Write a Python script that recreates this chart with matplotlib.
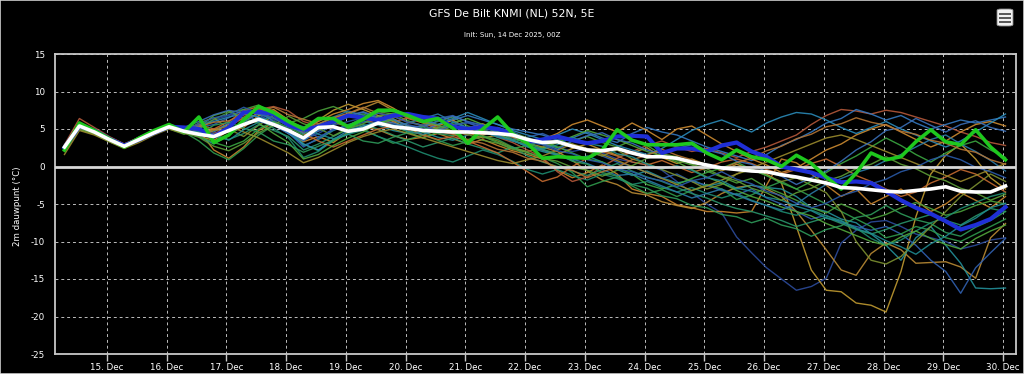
import matplotlib
matplotlib.use("Agg")
import matplotlib.pyplot as plt
import matplotlib.dates as mdates
from matplotlib.patches import FancyBboxPatch, Rectangle
import pandas as pd

plt.rcParams['font.family'] = ['Liberation Sans Narrow', 'DejaVu Sans']
plt.rcParams['axes.unicode_minus'] = False

# ---------------- data ----------------
times = pd.date_range("2025-12-14 07:00", periods=64, freq="6h")

ens_mean = [2.6, 5.4, 4.6, 3.6, 2.7, 3.6, 4.5, 5.3,
            4.7, 4.3, 4.0, 4.8, 5.6, 6.3, 5.6, 4.8,
            3.8, 5.2, 5.3, 4.7, 5.0, 5.8, 5.3, 5.1,
            4.8, 4.7, 4.6, 4.6, 4.5, 4.4, 4.2, 3.6,
            3.2, 3.3, 2.7, 2.2, 2.1, 2.4, 1.8, 1.3,
            1.3, 1.1, 0.6, 0.2, -0.2, -0.4, -0.6, -0.7,
            -1.1, -1.4, -1.8, -2.2, -2.8, -2.9, -3.1, -3.3,
            -3.4, -3.2, -3.0, -2.7, -3.3, -3.4, -3.4, -2.6]

operational = [2.2, 5.8, 4.8, 3.7, 2.6, 3.8, 4.8, 5.6,
               4.6, 6.6, 3.2, 4.2, 6.2, 8.0, 7.2, 6.0,
               5.0, 6.4, 6.4, 5.3, 6.3, 7.5, 7.5, 6.8,
               6.0, 6.4, 5.1, 3.1, 5.0, 6.6, 4.4, 3.1,
               1.1, 1.3, 1.2, 1.1, 2.2, 4.9, 3.5, 2.9,
               2.9, 2.9, 3.1, 1.8, 0.9, 2.2, 1.3, 0.9,
               0.0, 1.5, 0.4, -1.4, -3.0, -0.9, 1.8, 0.9,
               1.3, 3.3, 4.9, 3.3, 2.9, 4.9, 2.6, 0.9]

control = [2.5, 5.4, 4.8, 3.7, 2.8, 3.6, 4.5, 5.3,
           5.2, 5.0, 4.0, 5.2, 7.2, 7.3, 7.0, 5.5,
           4.9, 5.3, 6.0, 6.8, 6.5, 6.2, 6.8, 7.0,
           6.6, 6.4, 5.3, 5.0, 5.3, 5.0, 4.4, 3.3,
           3.6, 4.0, 3.5, 3.1, 3.4, 4.0, 4.1, 4.0,
           1.8, 2.4, 2.4, 2.0, 2.8, 3.2, 2.0, 1.3,
           0.0, -0.4, -0.8, -1.5, -2.1, -2.0, -2.2, -3.3,
           -4.5, -5.5, -6.3, -7.3, -8.4, -7.8, -7.0, -5.4]

members = [
    [2.9, 5.6, 4.7, 3.5, 2.6, 3.8, 4.7, 5.4, 4.9,
     5.5, 6.2, 6.8, 7.3, 7.0, 6.2, 5.0, 3.6, 4.4, 5.5, 6.0, 6.5, 6.7, 6.1, 5.6, 5.0, 5.2, 5.5, 5.8, 5.2, 4.5, 3.8, 3.2,
     3.0, 2.6, 2.0, 2.4, 1.8, 1.0, 0.6, 0.2, -0.5, -2.0, -3.5, -5.0, -6.2, -9.4, -11.5, -13.5,
     -15.0, -16.5, -16.0, -14.9, -10.2, -8.5, -7.4, -7.2, -8.0, -9.0, -9.5, -10.0, -11.0, -10.5, -9.8, -9.5],
    [2.3, 5.1, 4.4, 3.7, 2.9, 3.5, 4.3, 5.1, 4.5,
     4.0, 3.5, 4.8, 6.0, 7.2, 6.5, 5.5, 4.6, 6.2, 7.5, 8.3, 7.6, 6.8, 6.0, 5.1, 4.2, 4.8, 5.6, 4.5, 3.8, 4.2, 3.5, 2.7,
     2.2, 1.6, 2.4, 3.0, 2.2, 1.5, 1.8, 2.5, 1.2, 0.4, 1.0, 0.2, -0.6, 0.3, -0.4, -1.0,
     -2.2, -8.0, -13.8, -16.5, -16.7, -18.2, -18.5, -19.4, -14.0, -6.7, -1.0, 1.5, 3.0, 1.0, -1.5, -3.0],
    [2.5, 5.3, 4.5, 3.4, 2.6, 3.7, 4.6, 5.2, 4.4,
     4.8, 2.2, 1.1, 2.6, 4.8, 5.8, 4.4, 3.3, 4.0, 3.2, 4.6, 5.4, 4.9, 4.1, 3.6, 3.9, 4.4, 3.7, 3.0, 3.6, 2.8, 2.1, 1.6,
     1.0, -0.5, -1.5, -0.8, 0.2, -1.0, -3.0, -3.6, -4.0, -5.1, -5.5, -6.0, -6.0, -6.2, -6.0, -2.5,
     1.0, 0.5, -1.0, -2.5, -4.0, -3.0, -5.0, -4.0, -3.0, -4.5, -6.0, -5.0, -3.5, -4.5, -5.5, -4.0],
    [2.7, 5.5, 4.6, 3.6, 2.8, 3.4, 4.4, 5.3, 4.8,
     4.5, 4.9, 5.6, 6.4, 7.8, 7.0, 6.1, 5.0, 5.6, 6.5, 7.0, 7.8, 8.6, 7.5, 6.4, 5.8, 5.0, 4.4, 5.1, 5.7, 4.8, 3.9, 3.1,
     2.6, 2.0, 0.8, -0.6, -1.8, -2.4, -3.5, -3.8, -4.7, -5.2, -5.6, -4.8, -3.6, -2.8, -2.5, -3.0,
     -4.0, -6.0, -8.5, -11.1, -13.8, -14.5, -11.6, -10.2, -11.1, -12.9, -12.8, -12.7, -13.4, -14.9, -9.5, -7.6],
    [2.6, 5.2, 4.7, 3.7, 2.7, 3.6, 4.6, 5.4, 4.6,
     4.0, 3.0, 4.2, 5.5, 6.6, 5.9, 4.8, 2.8, 3.6, 4.8, 5.6, 6.1, 5.5, 4.8, 4.4, 4.6, 3.9, 3.5, 4.2, 4.9, 4.1, 3.5, 2.6,
     2.0, 1.5, 0.8, 1.4, 0.6, -0.4, -1.2, -0.6, -1.5, -2.2, -1.8, -2.6, -2.2, -3.0, -2.5, -2.8,
     -3.0, -4.0, -5.5, -6.0, -7.0, -7.5, -9.0, -10.5, -12.5, -9.5, -8.0, -10.5, -12.9, -16.2, -16.3, -16.2],
    [2.8, 5.4, 4.8, 3.7, 2.8, 3.7, 4.5, 5.5, 5.0,
     5.2, 5.6, 6.5, 7.6, 6.9, 5.8, 4.5, 2.6, 3.8, 5.0, 5.2, 5.9, 6.2, 5.6, 5.0, 5.5, 6.4, 6.8, 5.9, 5.0, 4.2, 3.6, 3.9,
     4.4, 3.6, 2.8, 2.2, 1.4, 0.6, 0.0, -0.8, -1.6, -1.0, -2.0, -2.5, -3.2, -3.8, -3.0, -4.2,
     -5.0, -6.0, -7.0, -6.5, -7.5, -8.0, -8.5, -8.0, -9.0, -10.5, -12.5, -14.0, -16.9, -13.5, -11.5, -9.6],
    [2.4, 5.0, 4.5, 3.5, 2.6, 3.4, 4.4, 5.2, 4.6,
     3.4, 1.8, 0.9, 2.4, 4.2, 5.5, 4.9, 3.0, 2.1, 3.4, 4.5, 5.0, 4.0, 3.1, 3.6, 4.2, 3.5, 2.8, 3.3, 4.1, 3.6, 2.6, 1.8,
     1.2, 0.4, -0.8, -2.7, -2.0, -1.4, -2.6, -3.6, -3.1, -4.0, -3.2, -2.4, -3.0, -4.4, -3.8, -2.8,
     -2.0, -3.0, -4.0, -5.0, -6.0, -7.0, -8.0, -9.5, -9.0, -8.0, -8.5, -9.5, -10.0, -9.0, -8.0, -7.0],
    [2.0, 4.9, 4.3, 3.3, 2.5, 3.5, 4.4, 5.0, 4.3,
     5.0, 6.3, 7.2, 7.6, 8.2, 7.0, 5.8, 6.4, 7.4, 8.0, 7.2, 6.5, 7.3, 7.0, 6.1, 5.4, 6.0, 6.6, 5.4, 4.8, 5.2, 4.6, 3.8,
     3.2, 2.5, 3.4, 4.0, 3.2, 2.6, 3.5, 2.8, 1.6, 0.8, 0.2, -0.6, -1.4, -2.2, -1.6, -2.8,
     -3.6, -4.5, -5.5, -6.2, -5.0, -5.8, -7.0, -6.4, -5.5, -4.8, -5.6, -6.5, -6.0, -5.2, -4.6, -5.0],
    [2.7, 5.3, 4.6, 3.6, 2.7, 3.6, 4.5, 5.3, 4.7,
     4.2, 3.8, 5.0, 5.9, 6.4, 5.1, 3.8, 1.2, 2.0, 3.6, 4.3, 4.8, 4.0, 3.3, 2.6, 1.8, 1.1, 0.6, 1.4, 2.2, 1.6, 0.7, -0.4,
     -1.0, -0.4, -1.2, -1.8, -1.0, -1.6, -2.4, -2.0, -2.8, -3.4, -2.8, -3.6, -4.2, -3.6, -4.5, -5.2,
     -6.0, -6.5, -5.8, -6.6, -7.2, -8.2, -9.6, -10.5, -9.8, -8.6, -7.5, -6.8, -5.6, -4.8, -4.0, -3.5],
    [2.5, 5.2, 4.5, 3.6, 2.8, 3.6, 4.4, 5.2, 4.6,
     5.8, 6.5, 5.0, 4.0, 5.5, 6.8, 5.6, 4.4, 5.0, 6.0, 5.2, 4.8, 5.8, 6.4, 5.4, 4.6, 5.0, 4.4, 3.6, 4.0, 3.4, 2.5, 2.0,
     2.6, 3.4, 3.0, 2.0, 1.4, 2.2, 1.0, 0.4, -0.4, -1.2, -2.0, -3.0, -2.4, -1.0, -0.4, -1.2,
     -2.0, -1.5, -2.5, -3.5, -6.0, -10.0, -12.5, -13.0, -12.0, -10.0, -8.0, -6.0, -4.0, -2.5, -1.0, -2.0],
    [2.9, 6.4, 5.2, 4.0, 3.0, 3.8, 4.8, 5.6, 5.0,
     4.8, 4.4, 5.2, 6.6, 7.6, 8.0, 7.4, 6.0, 5.4, 6.2, 7.0, 6.4, 5.6, 5.9, 6.5, 5.9, 5.2, 4.7, 4.2, 4.8, 3.9, 3.2, 2.2,
     1.2, -0.7, -2.0, -1.4, 0.0, 1.1, 2.0, 2.8, 3.4, 2.6, 2.0, 2.4, 1.8, 1.2, 2.0, 2.6,
     3.4, 4.2, 5.6, 6.8, 7.6, 7.4, 7.0, 7.5, 7.2, 6.6, 6.0, 5.4, 4.6, 4.0, 3.2, 2.8],
    [2.6, 5.5, 4.6, 3.7, 2.7, 3.6, 4.6, 5.4, 4.8,
     5.0, 4.6, 5.8, 6.9, 7.4, 6.0, 4.6, 3.4, 4.8, 6.2, 6.8, 7.2, 6.4, 5.8, 5.2, 4.8, 5.6, 6.2, 6.8, 6.2, 5.6, 5.0, 4.6,
     4.2, 3.5, 3.8, 4.6, 3.8, 3.2, 4.4, 5.2, 4.6, 4.2, 3.4, 2.6, 2.0, 1.4, 0.8, 1.6,
     2.8, 3.6, 4.6, 5.8, 6.4, 7.6, 7.0, 6.2, 6.8, 5.8, 5.0, 5.6, 6.2, 5.8, 6.2, 6.6],
    [2.4, 5.0, 4.4, 3.5, 2.7, 3.5, 4.4, 5.1, 4.5,
     4.6, 5.0, 4.6, 5.2, 6.8, 7.6, 6.2, 5.0, 6.0, 7.0, 7.6, 8.4, 8.8, 7.8, 6.6, 6.0, 5.4, 6.2, 5.0, 4.2, 4.8, 4.0, 3.0,
     3.6, 4.4, 5.6, 6.2, 5.4, 4.6, 5.8, 4.8, 3.6, 5.0, 5.4, 4.2, 3.0, 2.0, 1.0, 0.2,
     -0.8, -0.2, 1.0, 2.2, 3.0, 4.2, 5.0, 5.6, 4.6, 3.6, 2.6, 3.4, 4.6, 5.6, 6.0, 5.4],
    [2.6, 5.6, 4.8, 3.8, 2.9, 3.8, 4.7, 5.5, 4.9,
     4.0, 3.2, 2.6, 3.4, 5.0, 6.0, 5.2, 4.2, 5.0, 5.8, 6.6, 7.0, 6.2, 5.4, 4.6, 3.8, 4.6, 5.4, 4.8, 4.0, 3.2, 2.4, 2.8,
     3.4, 2.6, 1.8, 1.0, 0.6, -0.2, -1.0, -2.4, -3.0, -2.4, -1.6, -0.8, -0.2, 0.6, -0.4, -1.2,
     -2.2, -3.0, -2.0, -0.8, 0.4, 1.4, 2.6, 3.8, 2.8, 1.6, 0.6, 1.8, 2.8, 3.4, 2.2, 1.2],
    [2.3, 5.2, 4.5, 3.5, 2.6, 3.5, 4.4, 5.2, 4.6,
     4.4, 4.0, 3.6, 4.4, 5.6, 4.8, 4.0, 2.2, 3.0, 4.0, 5.0, 5.6, 5.0, 4.2, 3.4, 2.6, 3.2, 3.8, 3.0, 2.4, 1.8, 2.6, 1.4,
     0.6, 0.0, -0.6, -1.2, -0.4, 0.4, -0.6, -1.4, -2.0, -2.8, -3.6, -4.2, -5.0, -5.6, -6.0, -6.6,
     -7.2, -8.0, -7.4, -6.8, -7.6, -8.4, -9.0, -8.4, -7.6, -7.0, -6.4, -7.2, -7.8, -6.6, -5.6, -6.0],
    [2.7, 5.4, 4.7, 3.6, 2.8, 3.7, 4.6, 5.3, 4.8,
     5.4, 6.0, 6.6, 7.0, 6.6, 5.6, 4.4, 3.0, 2.2, 3.6, 4.8, 5.4, 6.0, 6.6, 7.0, 6.2, 5.6, 6.4, 7.2, 6.4, 5.6, 4.8, 4.2,
     3.6, 4.2, 5.0, 4.4, 3.6, 2.8, 2.2, 1.6, 2.4, 3.6, 4.8, 5.6, 6.2, 5.4, 4.6, 5.8,
     6.6, 7.2, 7.0, 6.2, 5.2, 4.4, 5.2, 6.0, 5.0, 4.2, 3.4, 2.6, 3.4, 4.6, 5.8, 7.0],
    [2.8, 5.6, 4.8, 3.9, 3.0, 3.9, 4.8, 5.6, 5.1,
     5.6, 5.0, 6.0, 7.4, 8.0, 7.4, 6.2, 4.4, 3.4, 2.6, 3.4, 4.2, 5.0, 5.4, 4.8, 4.2, 3.6, 4.0, 3.4, 2.6, 1.8, 0.6, -0.7,
     -2.0, -1.4, 0.0, 1.1, 2.0, 1.4, 0.6, 0.2, 0.8, 0.0, -0.8, -0.2, 0.6, 1.0, 0.4, -0.4,
     -1.0, -0.4, 0.4, 1.0, 0.0, -1.2, -2.0, -3.0, -4.0, -3.4, -2.2, -1.4, -0.4, -1.0, -2.2, -3.4],
    [2.5, 5.4, 4.6, 3.6, 2.8, 3.6, 4.5, 5.3, 4.7,
     5.2, 6.8, 7.4, 6.4, 5.8, 4.4, 3.2, 1.0, 1.6, 2.8, 3.8, 4.6, 5.8, 6.2, 5.4, 4.6, 5.2, 5.8, 6.4, 5.6, 4.4, 3.4, 3.0,
     2.4, 3.2, 4.0, 4.8, 4.2, 3.6, 2.8, 2.0, 1.4, 0.6, -0.4, -1.4, -2.2, -3.2, -4.0, -4.6,
     -5.4, -6.0, -6.6, -7.6, -8.4, -9.2, -10.0, -10.5, -9.4, -8.6, -9.6, -10.4, -11.0, -9.6, -8.6, -7.8],
    [2.4, 5.2, 4.6, 3.6, 2.8, 3.6, 4.6, 5.4, 4.8,
     4.6, 4.2, 4.8, 6.0, 7.0, 6.4, 5.4, 4.4, 5.6, 6.6, 7.4, 6.8, 6.0, 5.4, 5.8, 6.4, 7.0, 6.0, 5.2, 4.6, 4.0, 3.4, 2.8,
     2.2, 1.6, 1.0, 0.4, -0.4, -1.2, -1.0, -1.8, -2.6, -3.4, -4.2, -3.6, -3.0, -3.8, -4.6, -5.2,
     -5.8, -5.0, -3.6, -2.4, -1.6, -0.8, -0.2, 0.8, 1.6, 2.6, 3.6, 4.2, 3.0, 2.0, 0.8, -0.6],
    [1.6, 4.8, 4.2, 3.3, 2.4, 3.2, 4.2, 5.0, 4.4,
     4.2, 4.8, 5.4, 4.6, 3.8, 2.8, 1.8, 0.5, 1.2, 2.2, 3.2, 4.0, 4.6, 5.0, 4.4, 3.8, 3.2, 2.6, 2.0, 1.4, 0.8, 0.4, 0.9,
     1.4, 2.2, 3.0, 2.4, 1.6, 0.8, 0.0, -0.8, -1.6, -2.4, -3.2, -2.6, -1.8, -1.0, -0.2, 0.6,
     1.4, 2.2, 3.0, 3.8, 4.2, 3.6, 2.8, 2.0, 1.2, 0.4, -0.4, -1.2, -2.0, -1.2, -0.4, 0.4],
    [2.7, 5.7, 4.9, 3.8, 2.9, 3.9, 4.8, 5.6, 5.2,
     6.0, 6.9, 7.5, 7.1, 6.0, 5.5, 4.4, 3.9, 4.7, 5.6, 6.8, 7.3, 6.6, 6.3, 5.4, 5.3, 6.1, 6.7, 6.0, 5.5, 4.7, 4.3, 3.5,
     3.1, 2.3, 3.4, 4.1, 4.5, 3.6, 3.1, 2.2, 1.7, 2.4, 2.9, 2.2, 1.7, 0.7, 0.3, -0.7,
     -1.3, -2.4, -1.5, -0.6, 0.7, 2.2, 3.3, 4.8, 5.2, 6.4, 5.5, 4.6, 5.6, 6.1, 5.2, 4.7],
    [2.5, 5.3, 4.6, 3.6, 2.7, 3.6, 4.6, 5.3, 4.7,
     4.3, 5.5, 5.9, 5.1, 4.6, 3.4, 2.9, 1.9, 2.7, 3.5, 4.3, 3.4, 3.1, 3.9, 4.5, 5.3, 4.4, 4.1, 4.9, 5.2, 4.7, 3.6, 3.3,
     2.3, 1.7, 0.7, 0.3, -0.8, -1.3, -2.4, -2.9, -3.9, -4.3, -5.2, -5.5, -6.4, -6.7, -7.5, -6.9,
     -7.8, -8.3, -9.3, -8.4, -7.9, -6.8, -6.4, -5.2, -6.3, -7.1, -7.6, -8.8, -9.3, -8.1, -7.2, -6.0],
    [2.6, 5.5, 4.7, 3.7, 2.8, 3.7, 4.6, 5.4, 4.8,
     5.3, 5.9, 6.1, 6.9, 7.3, 7.9, 6.9, 6.3, 5.7, 6.5, 7.1, 7.9, 7.1, 6.7, 5.9, 5.5, 4.7, 4.3, 3.5, 3.1, 2.3, 1.9, 1.1,
     0.7, -0.1, -0.5, -1.5, -0.7, -0.1, 0.9, 1.5, 2.3, 1.5, 0.9, 0.1, -0.3, 0.5, 1.1, 2.1,
     2.7, 3.7, 4.3, 5.3, 5.7, 6.5, 5.9, 5.5, 4.7, 4.3, 3.5, 3.1, 2.3, 1.9, 0.9, 0.3],
    [2.4, 5.1, 4.5, 3.5, 2.6, 3.5, 4.4, 5.2, 4.6,
     4.7, 4.3, 3.5, 4.9, 5.9, 6.9, 5.9, 5.3, 4.3, 3.7, 4.3, 5.3, 5.9, 5.5, 4.7, 4.3, 4.9, 5.9, 5.1, 4.7, 3.9, 3.5, 2.7,
     2.3, 2.9, 3.9, 3.1, 2.7, 1.7, 1.3, 0.3, -0.3, 0.1, -0.5, -1.5, -1.9, -2.9, -3.3, -4.1,
     -4.5, -5.3, -5.9, -6.9, -7.3, -8.3, -8.9, -9.9, -10.7, -11.7, -10.3, -9.3, -7.9, -6.9, -5.5, -4.9],
    [2.2, 5.0, 4.4, 3.4, 2.5, 3.4, 4.3, 5.1, 4.5,
     3.9, 2.7, 2.1, 3.1, 4.5, 5.5, 6.7, 5.7, 5.1, 4.1, 5.1, 5.7, 6.7, 7.1, 6.7, 5.9, 5.5, 4.7, 4.3, 3.5, 3.1, 2.3, 1.9,
     1.1, 0.7, -0.1, -0.5, -1.3, -0.5, 0.1, 1.1, 1.7, 1.3, 0.3, -0.3, -1.3, -1.9, -2.9, -3.5,
     -4.5, -3.5, -2.9, -1.9, -1.3, -0.3, 0.3, 1.3, 0.3, -0.3, -1.3, -1.9, -2.9, -3.5, -4.5, -3.7],
    [2.8, 5.5, 4.7, 3.6, 2.7, 3.7, 4.6, 5.4, 4.9,
     5.7, 6.5, 6.9, 7.9, 7.1, 6.5, 5.5, 4.9, 3.9, 4.9, 5.5, 6.5, 7.1, 6.7, 5.9, 5.5, 4.7, 5.5, 5.9, 5.5, 4.5, 4.1, 3.3,
     2.9, 2.1, 1.7, 0.9, 0.5, -0.3, -0.7, -1.5, -1.9, -2.7, -1.9, -1.5, -0.7, -1.7, -2.3, -3.3,
     -3.9, -4.9, -5.5, -4.9, -3.9, -3.3, -2.3, -1.7, -0.7, -0.1, 0.9, 1.5, 0.9, -0.1, -0.7, -1.5],
]

member_colors = ['#2c4b9b', '#c09a30', '#c8842c', '#b98a34', '#23909a',
                 '#3060b0', '#2f9a4c', '#4aa03a', '#1e8c70', '#7c9030',
                 '#b4583a', '#3478c0', '#cc8a30', '#3aa640', '#29946a',
                 '#2a8ab8', '#c46a30', '#52a83c', '#2b7aa6', '#9a8a2c',
                 '#3a6fb8', '#2e9a5a', '#b47434', '#1f8a90', '#5c9c36', '#2a5aa8']

title = "GFS De Bilt KNMI (NL) 52N, 5E"
subtitle = "Init: Sun, 14 Dec 2025, 00Z"
ylabel = "2m dauwpunt (\u00b0C)"
yticks = [15, 10, 5, 0, -5, -10, -15, -20, -25]

# ---------------- figure ----------------
W, H = 1024, 374
fig = plt.figure(figsize=(W / 100, H / 100), dpi=100, facecolor='black')
ax = fig.add_axes([55 / W, 1 - 354 / H, (1016 - 55) / W, (354 - 54) / H])
ax.set_facecolor('black')

for vals, col in zip(members, member_colors):
    ax.plot(times, vals, color=col, lw=1.0, alpha=0.9, zorder=2)

ax.axhline(0, color='#d8d8d8', lw=2.0, zorder=3)
ax.plot(times, control, color='#1f2fd6', lw=3.0, zorder=4, solid_joinstyle='round')
ax.plot(times, operational, color='#1ec81e', lw=2.6, zorder=5, solid_joinstyle='round')
ax.plot(times, ens_mean, color='white', lw=2.6, zorder=6, solid_joinstyle='round')

ax.set_ylim(-25, 15)
ax.set_yticks(yticks)
ax.set_xlim(pd.Timestamp("2025-12-14 03:12"), pd.Timestamp("2025-12-30 05:13"))
ax.xaxis.set_major_locator(mdates.DayLocator())
ax.xaxis.set_major_formatter(mdates.DateFormatter('%d. %b'))

ax.grid(True, color='#bdbdbd', lw=0.7, linestyle=(0, (3, 3)), zorder=1)
for s in ax.spines.values():
    s.set_color('#c8c8c8')
    s.set_linewidth(1.3)
ax.tick_params(axis='y', length=0, labelsize=6.3, pad=7)
ax.tick_params(axis='x', length=5, width=1, color='#c8c8c8', labelsize=6.3, pad=1.5)
for lbl in ax.get_xticklabels() + ax.get_yticklabels():
    lbl.set_color('white')

fig.text(18 / W, 1 - 206 / H, ylabel, rotation=90, color='white',
         fontsize=6.2, ha='center', va='center')
fig.text(0.5, 1 - 14 / H, title, color='white', fontsize=7.8, ha='center', va='center')
fig.text(0.5, 1 - 35 / H, subtitle, color='white', fontsize=5.0, ha='center', va='center')

# menu icon
fig.patches.append(FancyBboxPatch((997 / W, 1 - 26 / H), 16 / W, 17 / H,
                                  boxstyle="round,pad=0,rounding_size=0.004",
                                  transform=fig.transFigure, facecolor='#f0f0f0',
                                  edgecolor='#888888', lw=0.6))
for yy in (13.5, 17.5, 21.5):
    fig.lines.append(plt.Line2D([1000 / W, 1010 / W], [1 - yy / H, 1 - yy / H],
                                transform=fig.transFigure, color='#555555', lw=1.4))
fig.patches.append(Rectangle((0, 0), 1, 1, transform=fig.transFigure, fill=False,
                             edgecolor='#cfcfcf', lw=1.2))

fig.savefig("out.png", dpi=100, facecolor='black')
